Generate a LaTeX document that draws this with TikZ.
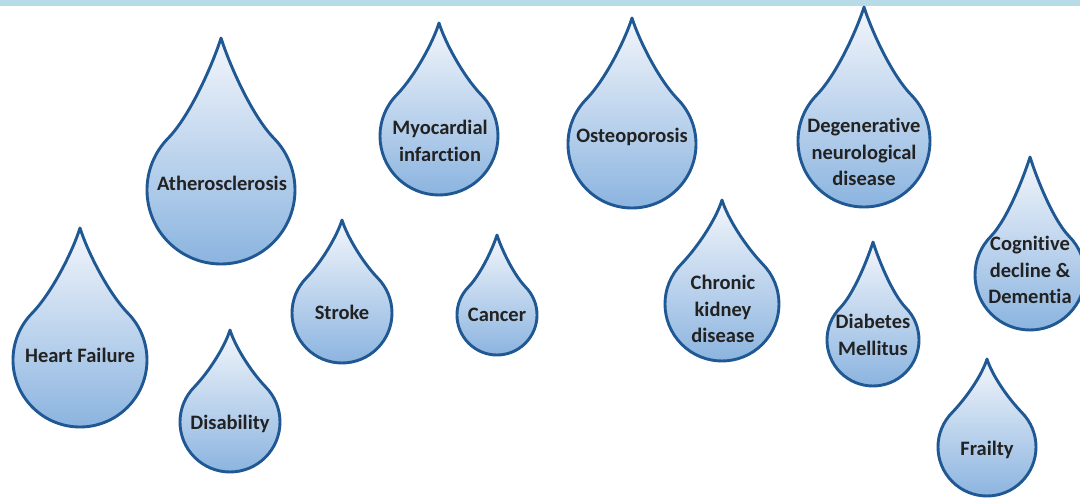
\documentclass[tikz,border=0pt]{standalone}
\usepackage{fontspec}
\newfontfamily\dropfont{Carlito}[Ligatures=NoCommon]
\definecolor{dropline}{HTML}{1F5892}
\definecolor{droptop}{HTML}{F3F6FB}
\definecolor{dropbot}{HTML}{88B2DF}
\definecolor{droptxt}{HTML}{222222}
\definecolor{topbar}{HTML}{B7DCE8}
\tikzset{
  dropstyle/.style={draw=dropline, line width=2.9pt, line join=round, top color=droptop, bottom color=dropbot},
  droptext/.style={font=\dropfont\bfseries\fontsize{20.5}{26.5}\selectfont, align=center, text=droptxt, inner sep=0pt}
}
\newcommand\drop[8]{%
  \pgfmathsetmacro\tk{#5/#4}%
  \begin{scope}[shift={(#2,502-#3)},scale=#4]
    \path[dropstyle] (0,\tk) .. controls (0.1,\tk-0.32) and (0.40,1.03) .. (0.707,0.707)
      arc[start angle=45,end angle=-225,radius=1]
      .. controls (-0.40,1.03) and (-0.1,\tk-0.32) .. cycle;
  \end{scope}
  \node[droptext] (#1) at (#6,502-#7) {#8};
}
\begin{document}
\begin{tikzpicture}[x=1pt,y=1pt]
\useasboundingbox (0,0) rectangle (1080,502);
\fill[topbar] (0,496) rectangle (1080,502);
\drop{hf}{80}{360}{67}{132}{80}{355}{Heart Failure}
\drop{ath}{221}{190}{74}{152}{222}{183}{Atherosclerosis}
\drop{dis}{230}{422}{50}{92}{230}{424}{Disability}
\drop{str}{342}{313}{50}{93}{342}{312}{Stroke}
\drop{mi}{439}{136}{59}{113}{440}{141}{Myocardial\\infarction}
\drop{can}{497}{315}{40}{80}{497}{315}{Cancer}
\drop{ost}{632}{144}{64}{126}{632}{137}{Osteoporosis}
\drop{ckd}{722}{304}{57}{104}{723}{309}{Chronic\\kidney\\disease}
\drop{deg}{864}{141}{66}{134}{864}{152}{Degenerative\\neurological\\disease}
\drop{dm}{873}{340}{46}{98}{873}{335}{Diabetes\\Mellitus}
\drop{cog}{1030}{275}{55}{118}{1030}{270}{Cognitive\\decline \&\\Dementia}
\drop{fra}{987}{447}{49}{88}{987}{450}{Frailty}
\end{tikzpicture}
\end{document}
